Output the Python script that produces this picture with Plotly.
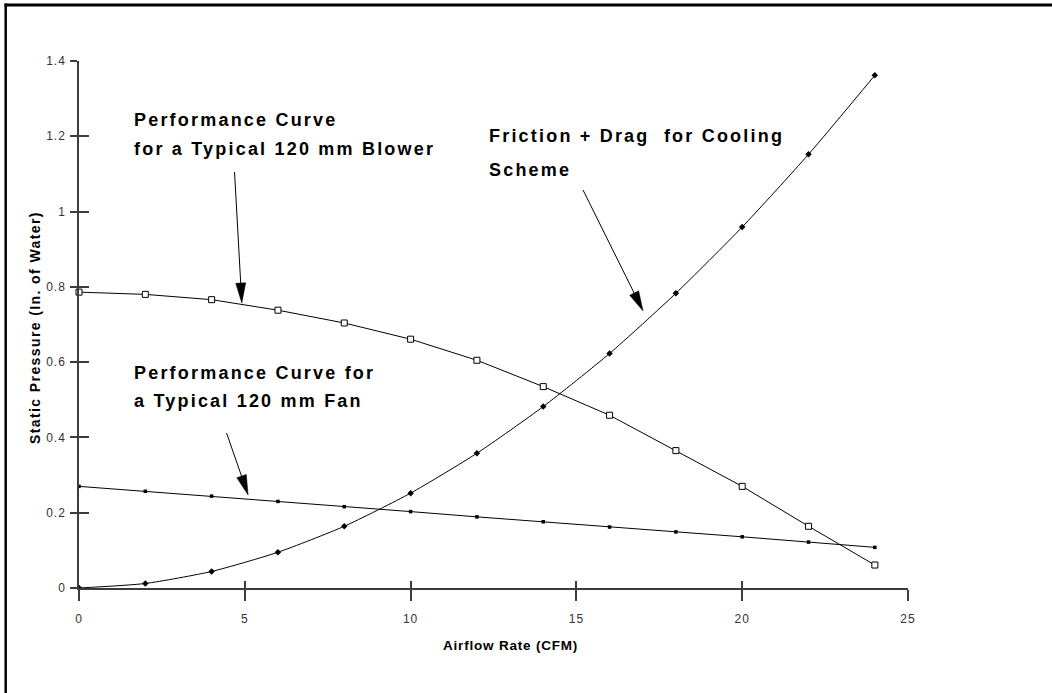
import math
import plotly.graph_objects as go

# ---------------- data ----------------
AIRFLOW = [0, 2, 4, 6, 8, 10, 12, 14, 16, 18, 20, 22, 24]
BLOWER = [0.786, 0.780, 0.766, 0.738, 0.704, 0.661, 0.605, 0.535, 0.459, 0.365, 0.270, 0.164, 0.061]
FAN = [0.270, 0.257, 0.244, 0.230, 0.216, 0.203, 0.189, 0.176, 0.162, 0.149, 0.136, 0.122, 0.108]
FRICTION = [0.0, 0.012, 0.044, 0.095, 0.164, 0.252, 0.358, 0.482, 0.623, 0.783, 0.959, 1.152, 1.362]

X_TICKS = [0, 5, 10, 15, 20, 25]
X_TICK_LABELS = ["0", "5", "10", "15", "20", "25"]
Y_TICKS = [0, 0.2, 0.4, 0.6, 0.8, 1.0, 1.2, 1.4]
Y_TICK_LABELS = ["0", "0.2", "0.4", "0.6", "0.8", "1", "1.2", "1.4"]

X_TITLE = "Airflow Rate (CFM)"
Y_TITLE = "Static Pressure (In. of Water)"
LABEL_BLOWER = ["Performance Curve", "for a Typical 120 mm Blower"]
LABEL_FRICTION = ["Friction + Drag\u00a0 for Cooling", "Scheme"]
LABEL_FAN = ["Performance Curve for", "a Typical 120 mm Fan"]

# ---------------- layout geometry ----------------
W, H = 1052, 693
ML, MR, MT, MB = 79, 144, 61, 105
X_RANGE = [0, 25]
Y_RANGE = [0, 1.4]
PW = W - ML - MR
PH = H - MT - MB

FONT = "Liberation Sans, Arial, sans-serif"
AXIS_COLOR = "#3c3c3c"


def px_y(py):
    return Y_RANGE[0] + (H - MB - py) / PH * (Y_RANGE[1] - Y_RANGE[0])


def x_px(x):
    return ML + (x - X_RANGE[0]) / (X_RANGE[1] - X_RANGE[0]) * PW


def paper_x(px):
    return (px - ML) / PW


def paper_y(py):
    return (H - MB - py) / PH


def spaced(t, s):
    return '<span style="letter-spacing:%spx">%s</span>' % (s, t)


fig = go.Figure()

fig.add_trace(go.Scatter(
    x=AIRFLOW, y=FRICTION, mode="lines+markers", name="Friction + Drag",
    line=dict(color="black", width=1, shape="spline", smoothing=0.6),
    marker=dict(symbol="diamond", size=5, color="black"),
    cliponaxis=False, showlegend=False))
fig.add_trace(go.Scatter(
    x=AIRFLOW, y=FAN, mode="lines+markers", name="Fan",
    line=dict(color="black", width=1),
    marker=dict(symbol="square", size=3.5, color="black"),
    cliponaxis=False, showlegend=False))
fig.add_trace(go.Scatter(
    x=AIRFLOW, y=BLOWER, mode="lines+markers", name="Blower",
    line=dict(color="black", width=1),
    marker=dict(symbol="square", size=6, color="white", line=dict(color="black", width=1)),
    cliponaxis=False, showlegend=False))

# dummy trace for the overlay axes giving the inner tick halves
fig.add_trace(go.Scatter(x=[None], y=[None], xaxis="x2", yaxis="y2",
                         showlegend=False, hoverinfo="skip"))

shapes = [
    dict(type="line", xref="paper", yref="paper",
         x0=paper_x(4.5), x1=paper_x(W + 2), y0=paper_y(5), y1=paper_y(5),
         line=dict(color="black", width=3)),
    dict(type="line", xref="paper", yref="paper",
         x0=paper_x(5.7), x1=paper_x(5.7), y0=paper_y(3.5), y1=paper_y(H + 2),
         line=dict(color="black", width=2.5)),
]

# pointer arrows: (tail airflow, tail px-y) -> (tip airflow, tip px-y)
ARROWS = [((4.69, 172), (4.91, 303)),
          ((15.2, 190), (17.01, 311)),
          ((4.45, 433), (5.10, 495))]
HEAD_LEN, HEAD_HALF = 20, 5
for (tx, ty), (hx, hy) in ARROWS:
    x0, y0, x1, y1 = x_px(tx), ty, x_px(hx), hy
    d = math.hypot(x1 - x0, y1 - y0)
    ux, uy = (x1 - x0) / d, (y1 - y0) / d
    bx, by = x1 - ux * HEAD_LEN, y1 - uy * HEAD_LEN
    nx, ny = -uy, ux
    shapes.append(dict(type="line", xref="paper", yref="paper",
                       x0=paper_x(x0), y0=paper_y(y0), x1=paper_x(bx + ux * 4), y1=paper_y(by + uy * 4),
                       line=dict(color="black", width=1)))
    pts = [(x1, y1), (bx + nx * HEAD_HALF, by + ny * HEAD_HALF), (bx - nx * HEAD_HALF, by - ny * HEAD_HALF)]
    path = "M " + " L ".join("%.5f,%.5f" % (paper_x(px), paper_y(py)) for px, py in pts) + " Z"
    shapes.append(dict(type="path", xref="paper", yref="paper", path=path,
                       fillcolor="black", line=dict(color="black", width=0.5)))

annotations = []
TITLE_FONT = dict(family=FONT, size=18, color="black", weight="bold")
for lines, x0, ys in [(LABEL_BLOWER, 1.6, [120, 149]),
                      (LABEL_FRICTION, 12.3, [136, 170]),
                      (LABEL_FAN, 1.6, [373, 401])]:
    for t, yy in zip(lines, ys):
        annotations.append(dict(
            text=spaced(t, 2.2), x=x0, y=px_y(yy), xref="x", yref="y",
            xanchor="left", yanchor="middle", showarrow=False, font=TITLE_FONT))

annotations.append(dict(
    text=spaced(X_TITLE, 0.8), x=13.0, y=paper_y(645), xref="x", yref="paper",
    xanchor="center", yanchor="middle", showarrow=False,
    font=dict(family=FONT, size=13.5, color="black", weight="bold")))
annotations.append(dict(
    text=spaced(Y_TITLE, 1.4), x=paper_x(35), y=paper_y(328), xref="paper", yref="paper",
    xanchor="center", yanchor="middle", showarrow=False, textangle=-90,
    font=dict(family=FONT, size=14, color="black", weight="bold")))

TICKFONT = dict(family=FONT, size=12, color="#333333")

fig.update_layout(
    width=W, height=H,
    margin=dict(l=ML, r=MR, t=MT, b=MB),
    paper_bgcolor="white", plot_bgcolor="white",
    annotations=annotations,
    shapes=shapes,
    xaxis=dict(range=X_RANGE, showgrid=False, zeroline=False, showline=True,
               linecolor=AXIS_COLOR, linewidth=1.5, ticks="outside", ticklen=11,
               tickwidth=1.5, tickcolor=AXIS_COLOR, tickvals=X_TICKS,
               ticktext=[spaced(t, 1) for t in X_TICK_LABELS], tickfont=TICKFONT,
               ticklabelstandoff=8),
    yaxis=dict(range=Y_RANGE, showgrid=False, zeroline=False, showline=True,
               linecolor=AXIS_COLOR, linewidth=1.5, ticks="outside", ticklen=7,
               tickwidth=1.5, tickcolor=AXIS_COLOR, tickvals=Y_TICKS,
               ticktext=[spaced(t, 1) for t in Y_TICK_LABELS], tickfont=TICKFONT,
               ticklabelstandoff=2),
    xaxis2=dict(range=X_RANGE, overlaying="x", anchor="y", side="bottom",
                showgrid=False, zeroline=False, showline=False, ticks="inside",
                ticklen=7, tickwidth=1.5, tickcolor=AXIS_COLOR, tickvals=X_TICKS,
                showticklabels=False),
    yaxis2=dict(range=Y_RANGE, overlaying="y", anchor="x", side="left",
                showgrid=False, zeroline=False, showline=False, ticks="inside",
                ticklen=10, tickwidth=1.5, tickcolor=AXIS_COLOR, tickvals=Y_TICKS,
                showticklabels=False),
)

fig.write_html("out.html", config={"displayModeBar": False},
               post_script="document.body.style.margin='0px';")
